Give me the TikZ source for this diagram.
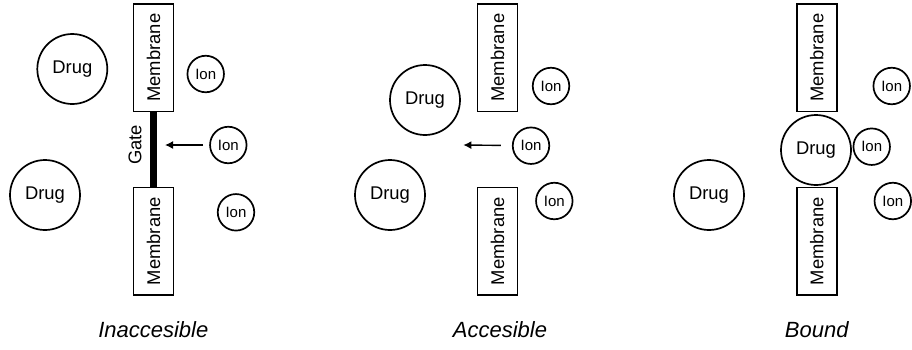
\documentclass[tikz,border=0pt]{standalone}
\usepackage{fontspec}
\setmainfont{Liberation Sans}
\usepackage{tikz}
\usetikzlibrary{arrows.meta}

\begin{document}
\begin{tikzpicture} [x = 1pt, y = -1pt, line width = 1.7pt,
  membrane/.style = {draw, rectangle, inner sep = 0, minimum width = 40pt, minimum height = 107.5pt, font = \fontsize{18.4}{22}\selectfont},
  drug/.style = {draw, circle, inner sep = 0, minimum size = 70pt, font = \fontsize{18.4}{22}\selectfont},
  ion/.style = {draw, circle, inner sep = 0, minimum size = 36.5pt, font = \fontsize{15}{18}\selectfont},
  state/.style = {inner sep = 0, font = \fontsize{22}{26}\selectfont\itshape},
  push/.style = {-{Latex[length = 8pt, width = 8pt]}, line width = 1.4pt}]
\useasboundingbox (0,0) rectangle (912,349);
\node(m1a)[membrane] at (153.5,57.7) {\rotatebox{90}{Membrane}};
\node(m1b)[membrane] at (153.5,241.2) {\rotatebox{90}{Membrane}};
\node(d1a)[drug] at (72.3,69) {Drug};
\node(d1b)[drug] at (45,195) {Drug};
\node(i1a)[ion] at (205.7,74) {Ion};
\node(i1b)[ion] at (228.3,145) {Ion};
\node(i1c)[ion] at (236,212.3) {Ion};
\node(g1)[inner sep = 0, font = \fontsize{18.4}{22}\selectfont] at (135,145) {\rotatebox{90}{Gate}};
\coordinate(t1) at (165,145);
\node(l1)[state] at (153.3,330) {Inaccesible};
\draw [line width = 7pt] (m1a.south) -- (m1b.north);
\draw [push, shorten <= 6pt] (i1b) -- (t1);

\node(m2a)[membrane] at (497.5,57.7) {\rotatebox{90}{Membrane}};
\node(m2b)[membrane] at (497.5,241.2) {\rotatebox{90}{Membrane}};
\node(d2a)[drug] at (425,100) {Drug};
\node(d2b)[drug] at (390,195) {Drug};
\node(i2a)[ion] at (551,86) {Ion};
\node(i2b)[ion] at (531,145.7) {Ion};
\node(i2c)[ion] at (554.3,201) {Ion};
\coordinate(t2) at (463.3,145);
\node(l2)[state] at (500,330) {Accesible};
\draw [push, shorten <= 11pt] (i2b) -- (t2);

\node(m3a)[membrane] at (816.8,57.7) {\rotatebox{90}{Membrane}};
\node(m3b)[membrane] at (816.8,241.2) {\rotatebox{90}{Membrane}};
\node(d3a)[drug] at (816,150) {Drug};
\node(d3b)[drug] at (709,195) {Drug};
\node(i3a)[ion] at (891.7,86) {Ion};
\node(i3b)[ion] at (871.7,146.7) {Ion};
\node(i3c)[ion] at (892.8,201) {Ion};
\node(l3)[state] at (816.7,330) {Bound};
\end{tikzpicture}
\end{document}
